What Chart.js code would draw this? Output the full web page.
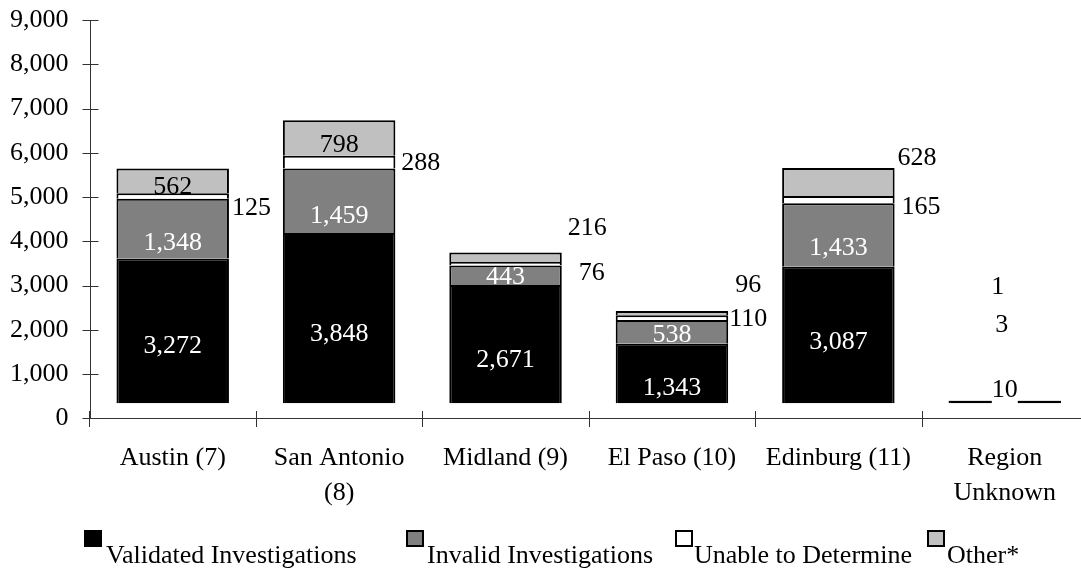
<!DOCTYPE html>
<html><head><meta charset="utf-8">
<script src="https://cdn.jsdelivr.net/npm/chart.js@4.4.1/dist/chart.umd.min.js"></script>
<style>html,body{margin:0;padding:0;background:#fff;overflow:hidden;width:1081px;height:569px}canvas{display:block}</style>
</head><body>
<canvas id="c" width="1088" height="569"></canvas>
<script>
// ---- data ----
const categories = [["Austin (7)"], ["San Antonio", "(8)"], ["Midland (9)"], ["El Paso (10)"], ["Edinburg (11)"], ["Region", "Unknown"]];
const seriesNames = ["Validated Investigations", "Invalid Investigations", "Unable to Determine", "Other*"];
const validated = [3272, 3848, 2671, 1343, 3087, 10];
const invalid   = [1348, 1459, 443, 538, 1433, 3];
const unable    = [125, 288, 76, 110, 165, 1];
const other     = [562, 798, 216, 96, 628, 0];
const yTicks    = [0, 1000, 2000, 3000, 4000, 5000, 6000, 7000, 8000, 9000];
const BAR_FLOOR = 340; // in the source the bars start slightly above the 0 line

// ---- styles ----
const FONT = "'Liberation Serif','Times New Roman',serif";
const colors = ["#000000", "#808080", "#ffffff", "#c0c0c0"];
const labelStyle = [
  { align: ['c','c','c','c','c','c'], color: ['#fff','#fff','#fff','#fff','#fff','#000'], bg: [null,null,null,null,null,'#fff'],
    nudge: [[0,15],[0,16],[0,16],[0,15],[0,7],[0,-12]] },
  { align: ['c','c','c','c','c','c'], color: ['#fff','#fff','#fff','#fff','#fff','#000'],
    nudge: [[0,15],[0,15],[0,2],[0,3],[0,13],[-3,-76]] },
  { align: ['r','r','r','r','r','c'], color: ['#000','#000','#000','#000','#000','#000'],
    nudge: [[3,12],[6,1],[17,9],[1,2],[7,8],[-7,-113]] },
  { align: ['c','c','r','r','r','c'], color: ['#000','#000','#000','#000','#000','#000'],
    nudge: [[0,6],[0,7],[6,-29],[7,-28],[3,-24],[0,0]] }
];
const legendPos = [[84, 106], [406, 427], [675, 694], [927, 947]];

function fmt(v) { return v.toLocaleString('en-US'); }

function drawLabels(chart, di) {
  const ctx = chart.ctx;
  const ds = chart.data.datasets[di];
  const st = labelStyle[di - 1];
  const meta = chart.getDatasetMeta(di);
  ctx.save();
  ctx.font = "26px " + FONT;
  ctx.textBaseline = 'middle';
  meta.data.forEach((bar, j) => {
    const v = ds.data[j];
    if (!v) return;
    const p = bar.getProps(['x', 'y', 'base', 'width'], true);
    const [dx, dy] = st.nudge[j];
    const cy = (p.y + p.base) / 2 + dy;
    let x, align;
    if (st.align[j] === 'r') { x = p.x + p.width / 2 + dx; align = 'left'; }
    else { x = p.x + dx; align = 'center'; }
    const txt = fmt(v);
    ctx.textAlign = align;
    if (st.bg && st.bg[j]) {
      const w = ctx.measureText(txt).width;
      ctx.fillStyle = st.bg[j];
      ctx.fillRect(x - w / 2, cy - 12, w, 26);
    }
    ctx.fillStyle = st.color[j];
    ctx.fillText(txt, x, cy);
  });
  ctx.restore();
}

const segLabels = {
  id: 'segLabels',
  afterDatasetDraw(chart, args) { if (args.index === 4) drawLabels(chart, 4); },
  afterDatasetsDraw(chart) { [1, 2, 3].forEach(i => drawLabels(chart, i)); }
};

const axesPlugin = {
  id: 'axesLines',
  beforeDatasetsDraw(chart) {
    const ctx = chart.ctx, xs = chart.scales.x, ys = chart.scales.y, a = chart.chartArea;
    ctx.save();
    ctx.strokeStyle = '#333';
    ctx.lineWidth = 1;
    ctx.beginPath();
    const y0 = ys.getPixelForValue(0);
    const ax = Math.round(a.left) + 0.5;
    ctx.moveTo(ax, ys.getPixelForValue(yTicks[yTicks.length - 1]));
    ctx.lineTo(ax, y0);
    ctx.moveTo(a.left, Math.round(y0) + 0.5);
    ctx.lineTo(a.right, Math.round(y0) + 0.5);
    yTicks.forEach(v => {
      const y = Math.round(ys.getPixelForValue(v)) + 0.5;
      ctx.moveTo(ax - 8, y); ctx.lineTo(ax + 8, y);
    });
    const n = categories.length;
    const cw = (a.right - a.left) / n;
    for (let k = 0; k <= n; k++) {
      const x = Math.round(k === n ? a.right : xs.getPixelForValue(k) - cw / 2) + 0.5;
      ctx.moveTo(x, Math.round(y0) - 7); ctx.lineTo(x, Math.round(y0) + 9);
    }
    ctx.stroke();
    ctx.restore();
  }
};

const legendPlugin = {
  id: 'legendDraw',
  afterDraw(chart) {
    const ctx = chart.ctx;
    ctx.save();
    ctx.font = "26px " + FONT;
    ctx.textBaseline = 'alphabetic';
    ctx.textAlign = 'left';
    seriesNames.forEach((name, i) => {
      const [bx, tx] = legendPos[i];
      ctx.fillStyle = colors[i];
      ctx.fillRect(bx, 530, 18, 17);
      ctx.strokeStyle = '#000';
      ctx.lineWidth = 2;
      ctx.strokeRect(bx + 1, 531, 16, 15);
      ctx.fillStyle = '#000';
      ctx.fillText(name, tx, 563);
    });
    ctx.restore();
  }
};

const seriesData = [validated, invalid, unable, other];
const datasets = [{
  label: 'floor', data: categories.map(() => BAR_FLOOR),
  backgroundColor: 'rgba(0,0,0,0)', borderWidth: 0
}].concat(seriesData.map((d, i) => ({
  label: seriesNames[i], data: d,
  backgroundColor: colors[i], borderColor: '#000', borderWidth: 2,
  minBarLength: i === 0 ? 2.5 : 0
})));

new Chart(document.getElementById('c'), {
  type: 'bar',
  data: { labels: categories, datasets },
  options: {
    responsive: false, animation: false,
    barPercentage: 0.676, categoryPercentage: 1,
    layout: { padding: { top: 20, right: 0, left: 0, bottom: 0 } },
    plugins: { legend: { display: false }, tooltip: { enabled: false } },
    scales: {
      x: {
        stacked: true,
        grid: { display: false, drawTicks: false }, border: { display: false },
        ticks: { font: { family: FONT, size: 26, lineHeight: 1.35 }, color: '#000', padding: 22, maxRotation: 0, autoSkip: false },
        afterFit(s) { s.height = 150.7; s.paddingLeft = 0; s.paddingRight = 0; }
      },
      y: {
        stacked: true, min: 0, max: 9000,
        afterBuildTicks(s) { s.ticks = yTicks.map(v => ({ value: v })); },
        grid: { display: false, drawTicks: false }, border: { display: false },
        ticks: { font: { family: FONT, size: 26 }, color: '#000', padding: 21, callback: v => fmt(v) },
        afterFit(s) { s.width = 89.5; s.paddingTop = 0; s.paddingBottom = 0; }
      }
    }
  },
  plugins: [axesPlugin, segLabels, legendPlugin]
});
</script>
</body></html>
